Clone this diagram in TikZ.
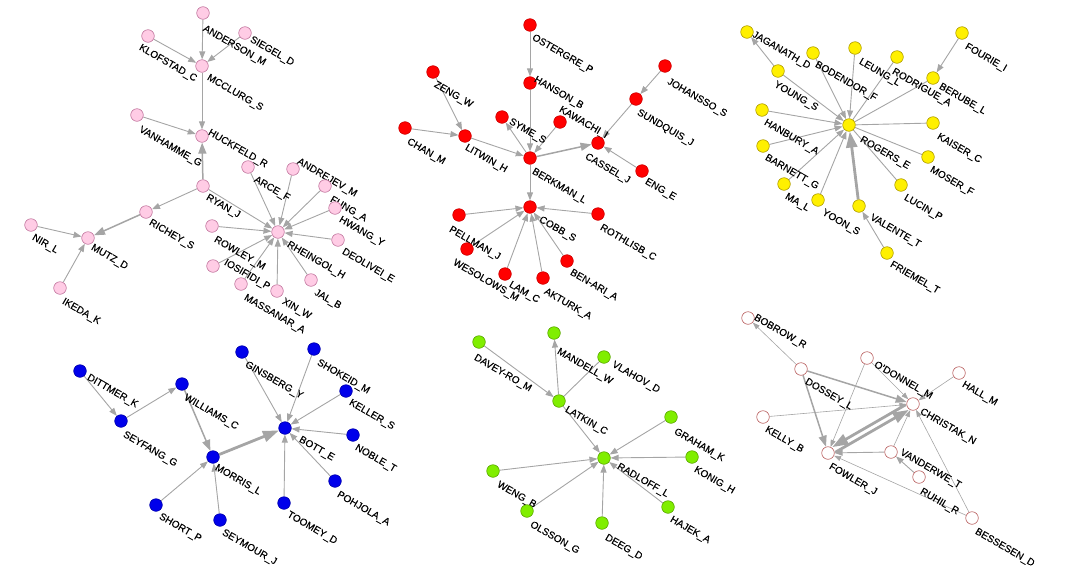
\documentclass[tikz,border=0pt]{standalone}
\usepackage{fontspec}
\setmainfont{Liberation Sans}[FakeBold=0.25]
\usetikzlibrary{arrows.meta,backgrounds}
\definecolor{edgec}{RGB}{165,165,165}
\definecolor{pinkf}{RGB}{255,204,229}
\definecolor{pinkd}{RGB}{195,120,160}
\definecolor{redf}{RGB}{255,0,0}
\definecolor{redd}{RGB}{205,0,0}
\definecolor{yelf}{RGB}{255,240,0}
\definecolor{yeld}{RGB}{175,155,0}
\definecolor{bluf}{RGB}{0,0,235}
\definecolor{blud}{RGB}{0,0,170}
\definecolor{grnf}{RGB}{128,238,0}
\definecolor{grnd}{RGB}{90,165,0}
\definecolor{whd}{RGB}{185,95,95}
\newcommand\vx[5]{\node[#1] (#2) at (#3) {}; \node[lbl] (#2-t) at (#5) {#4};}
\begin{document}
\begin{tikzpicture}[x=1pt,y=-1pt,
  vtx/.style={circle,minimum size=12.6pt,inner sep=0pt,line width=0.6pt},
  pk/.style={vtx,fill=pinkf,draw=pinkd},
  rd/.style={vtx,fill=redf,draw=redd},
  yl/.style={vtx,fill=yelf,draw=yeld},
  bl/.style={vtx,fill=bluf,draw=blud},
  gn/.style={vtx,fill=grnf,draw=grnd},
  wh/.style={vtx,fill=white,draw=whd},
  lbl/.style={anchor=north west,rotate=-30,inner sep=0pt,font=\fontsize{10}{11}\selectfont},
  e/.style={draw=edgec,line width=0.9pt,-{Triangle[length=8pt,width=6pt]}},
  en/.style={draw=edgec,line width=0.9pt},
  et/.style={draw=edgec,line width=0.6pt,-{Triangle[length=7pt,width=5pt]}},
  e2/.style={draw=edgec,line width=1.5pt,-{Triangle[length=11pt,width=8pt]}},
  e3/.style={draw=edgec,line width=2.8pt,-{Triangle[length=16pt,width=11pt]}},
]
\useasboundingbox (0,0) rectangle (1070,568);
% ---------- pink ----------
\vx{pk}{ANDERSON}{203,13}{ANDERSON\_M}{206,24}
\vx{pk}{SIEGEL}{245,33}{SIEGEL\_D}{253,35}
\vx{pk}{KLOFSTAD}{148,36}{KLOFSTAD\_C}{142,43}
\vx{pk}{MCCLURG}{202,66}{MCCLURG\_S}{210,73}
\vx{pk}{VANHAMME}{137,115}{VANHAMME\_G}{142,125}
\vx{pk}{HUCKFELD}{202,136}{HUCKFELD\_R}{211,128}
\vx{pk}{RYAN}{203,186}{RYAN\_J}{209,193}
\vx{pk}{RICHEY}{146,212}{RICHEY\_S}{152,218}
\vx{pk}{NIR}{31,225}{NIR\_L}{35,233}
\vx{pk}{MUTZ}{88,238}{MUTZ\_D}{94,243}
\vx{pk}{IKEDA}{60,288}{IKEDA\_K}{65,297}
\vx{pk}{ARCE}{248,167}{ARCE\_F}{257,175}
\vx{pk}{ANDREJEV}{293,169}{ANDREJEV\_M}{300,157}
\vx{pk}{FUNG}{325,186}{FUNG\_A}{333,195}
\vx{pk}{HWANG}{335,208}{HWANG\_Y}{342,215}
\vx{pk}{DEOLIVEI}{338,240}{DEOLIVEI\_E}{345,247}
\vx{pk}{RHEINGOL}{278,232}{RHEINGOL\_H}{290,240}
\vx{pk}{ROWLEY}{212,226}{ROWLEY\_M}{217,235}
\vx{pk}{IOSIFIDI}{213,266}{IOSIFIDI\_P}{227,258}
\vx{pk}{MASSANAR}{241,284}{MASSANAR\_A}{247,293}
\vx{pk}{XIN}{277,291}{XIN\_W}{285,297}
\vx{pk}{JAL}{311,280}{JAL\_B}{317,288}
% ---------- red ----------
\vx{rd}{OSTERGRE}{530,25}{OSTERGRE\_P}{535,33}
\vx{rd}{HANSON}{530,83}{HANSON\_B}{537,75}
\vx{rd}{ZENG}{433,72}{ZENG\_W}{437,80}
\vx{rd}{CHAN}{405,128}{CHAN\_M}{410,137}
\vx{rd}{LITWIN}{465,136}{LITWIN\_H}{468,143}
\vx{rd}{SYME}{502,117}{SYME\_S}{512,117}
\vx{rd}{KAWACHI}{560,122}{KAWACHI\_I}{562,105}
\vx{rd}{BERKMAN}{530,158}{BERKMAN\_L}{535,167}
\vx{rd}{JOHANSSO}{665,66}{JOHANSSO\_S}{670,77}
\vx{rd}{SUNDQUIS}{636,99}{SUNDQUIS\_J}{640,108}
\vx{rd}{CASSEL}{598,143}{CASSEL\_J}{588,152}
\vx{rd}{ENG}{642,171}{ENG\_E}{648,177}
\vx{rd}{COBB}{530,207}{COBB\_S}{542,215}
\vx{rd}{PELLMAN}{459,215}{PELLMAN\_J}{452,225}
\vx{rd}{WESOLOWS}{467,249}{WESOLOWS\_M}{456,258}
\vx{rd}{LAM}{505,274}{LAM\_C}{512,280}
\vx{rd}{AKTURK}{543,278}{AKTURK\_A}{547,287}
\vx{rd}{BENARI}{567,261}{BEN-ARI\_A}{573,268}
\vx{rd}{ROTHLISB}{598,214}{ROTHLISB\_C}{603,223}
% ---------- yellow ----------
\vx{yl}{JAGANATH}{747,32}{JAGANATH\_D}{755,30}
\vx{yl}{YOUNG}{778,71}{YOUNG\_S}{777,80}
\vx{yl}{BODENDOR}{813,53}{BODENDOR\_F}{818,60}
\vx{yl}{LEUNG}{855,48}{LEUNG\_L}{862,57}
\vx{yl}{RODRIGUE}{897,57}{RODRIGUE\_A}{895,67}
\vx{yl}{FOURIE}{962,33}{FOURIE\_I}{968,42}
\vx{yl}{BERUBE}{933,78}{BERUBE\_L}{942,82}
\vx{yl}{ROGERS}{849,125}{ROGERS\_E}{863,135}
\vx{yl}{HANBURY}{762,110}{HANBURY\_A}{767,118}
\vx{yl}{BARNETT}{763,146}{BARNETT\_G}{768,153}
\vx{yl}{MA}{784,184}{MA\_L}{788,192}
\vx{yl}{YOON}{818,200}{YOON\_S}{825,208}
\vx{yl}{VALENTE}{859,206}{VALENTE\_T}{873,213}
\vx{yl}{FRIEMEL}{887,253}{FRIEMEL\_T}{893,260}
\vx{yl}{LUCIN}{901,185}{LUCIN\_P}{907,193}
\vx{yl}{MOSER}{928,157}{MOSER\_F}{933,165}
\vx{yl}{KAISER}{933,123}{KAISER\_C}{940,132}
% ---------- blue ----------
\vx{bl}{DITTMER}{80,371}{DITTMER\_K}{90,373}
\vx{bl}{SEYFANG}{121,421}{SEYFANG\_G}{126,430}
\vx{bl}{WILLIAMS}{182,384}{WILLIAMS\_C}{187,393}
\vx{bl}{MORRIS}{213,457}{MORRIS\_L}{218,463}
\vx{bl}{SHORT}{156,505}{SHORT\_P}{162,512}
\vx{bl}{SEYMOUR}{220,520}{SEYMOUR\_J}{225,528}
\vx{bl}{GINSBERG}{242,352}{GINSBERG\_Y}{248,360}
\vx{bl}{SHOKEID}{314,349}{SHOKEID\_M}{320,358}
\vx{bl}{KELLER}{346,391}{KELLER\_S}{352,398}
\vx{bl}{NOBLE}{353,435}{NOBLE\_T}{358,443}
\vx{bl}{BOTT}{285,428}{BOTT\_E}{302,435}
\vx{bl}{POHJOLA}{335,481}{POHJOLA\_A}{340,490}
\vx{bl}{TOOMEY}{284,503}{TOOMEY\_D}{290,510}
% ---------- green ----------
\vx{gn}{DAVEYRO}{479,342}{DAVEY-RO\_M}{477,353}
\vx{gn}{MANDELL}{554,333}{MANDELL\_W}{560,347}
\vx{gn}{VLAHOV}{604,357}{VLAHOV\_D}{615,360}
\vx{gn}{LATKIN}{559,401}{LATKIN\_C}{568,405}
\vx{gn}{GRAHAM}{671,417}{GRAHAM\_K}{677,427}
\vx{gn}{KONIG}{692,457}{KONIG\_H}{697,465}
\vx{gn}{RADLOFF}{604,458}{RADLOFF\_L}{620,462}
\vx{gn}{WENG}{493,471}{WENG\_B}{500,480}
\vx{gn}{OLSSON}{527,511}{OLSSON\_G}{533,520}
\vx{gn}{DEEG}{602,523}{DEEG\_D}{608,533}
\vx{gn}{HAJEK}{668,507}{HAJEK\_A}{673,515}
% ---------- white ----------
\vx{wh}{BOBROW}{748,318}{BOBROW\_R}{757,313}
\vx{wh}{DOSSEY}{801,369}{DOSSEY\_L}{808,377}
\vx{wh}{ODONNEL}{867,358}{O'DONNEL\_M}{877,360}
\vx{wh}{HALL}{959,373}{HALL\_M}{965,380}
\vx{wh}{CHRISTAK}{913,404}{CHRISTAK\_N}{923,407}
\vx{wh}{KELLY}{763,417}{KELLY\_B}{768,425}
\vx{wh}{FOWLER}{828,453}{FOWLER\_J}{832,462}
\vx{wh}{VANDERWE}{891,452}{VANDERWE\_T}{903,448}
\vx{wh}{RUHIL}{919,477}{RUHIL\_R}{923,487}
\vx{wh}{BESSESEN}{972,518}{BESSESEN\_D}{978,527}
\begin{scope}[on background layer]
% pink edges
\draw[e] (ANDERSON) -- (MCCLURG);
\draw[e] (SIEGEL) -- (MCCLURG);
\draw[e] (KLOFSTAD) -- (MCCLURG);
\draw[e] (MCCLURG) -- (HUCKFELD);
\draw[e] (VANHAMME) -- (HUCKFELD);
\draw[e2] (RYAN) -- (HUCKFELD);
\draw[e] (RYAN) -- (RICHEY);
\draw[e2] (RICHEY) -- (MUTZ);
\draw[e] (NIR) -- (MUTZ);
\draw[e] (IKEDA) -- (MUTZ);
\foreach \s in {RYAN,ARCE,ANDREJEV,FUNG,HWANG,DEOLIVEI,ROWLEY,IOSIFIDI,MASSANAR,XIN,JAL}
  \draw[e] (\s) -- (RHEINGOL);
% red edges
\draw[e] (OSTERGRE) -- (HANSON);
\draw[e] (HANSON) -- (BERKMAN);
\draw[e] (ZENG) -- (LITWIN);
\draw[e] (CHAN) -- (LITWIN);
\draw[e] (LITWIN) -- (BERKMAN);
\draw[e] (BERKMAN) -- (SYME);
\draw[e] (KAWACHI) -- (BERKMAN);
\draw[e2] (BERKMAN) -- (CASSEL);
\draw[e] (JOHANSSO) -- (SUNDQUIS);
\draw[e] (SUNDQUIS) -- (CASSEL);
\draw[e] (ENG) -- (CASSEL);
\draw[e] (BERKMAN) -- (COBB);
\foreach \s in {PELLMAN,WESOLOWS,LAM,AKTURK,BENARI,ROTHLISB}
  \draw[e] (\s) -- (COBB);
% yellow edges
\draw[e] (YOUNG) -- (JAGANATH);
\draw[e] (FOURIE) -- (BERUBE);
\draw[e] (FRIEMEL) -- (VALENTE);
\draw[e3] (VALENTE) -- (ROGERS);
\foreach \s in {YOUNG,BODENDOR,LEUNG,HANBURY,BARNETT,MA,YOON}
  \draw[e] (\s) -- (ROGERS);
\foreach \s in {RODRIGUE,BERUBE,KAISER,MOSER,LUCIN}
  \draw[en] (\s) -- (ROGERS);
% blue edges
\draw[e] (DITTMER) -- (SEYFANG);
\draw[e] (SEYFANG) -- (WILLIAMS);
\draw[e2] (WILLIAMS) -- (MORRIS);
\draw[e] (SHORT) -- (MORRIS);
\draw[e] (SEYMOUR) -- (MORRIS);
\draw[e3] (MORRIS) -- (BOTT);
\foreach \s in {GINSBERG,SHOKEID,KELLER,NOBLE,POHJOLA,TOOMEY}
  \draw[e] (\s) -- (BOTT);
% green edges
\draw[e] (DAVEYRO) -- (LATKIN);
\draw[e] (LATKIN) -- (MANDELL);
\draw[en] (VLAHOV) -- (LATKIN);
\draw[e] (LATKIN) -- (RADLOFF);
\foreach \s in {GRAHAM,KONIG,WENG,OLSSON,DEEG,HAJEK}
  \draw[e] (\s) -- (RADLOFF);
% white edges
\draw[et] (DOSSEY) -- (BOBROW);
\draw[e2] (DOSSEY) -- (CHRISTAK);
\draw[e2] (DOSSEY) -- (FOWLER);
\draw[et] (ODONNEL) -- (CHRISTAK);
\draw[et] (ODONNEL) -- (FOWLER);
\draw[et] (HALL) -- (CHRISTAK);
\draw[et] (KELLY) -- (CHRISTAK);
\draw[e3,transform canvas={shift={(-1.5pt,2.6pt)}}] (CHRISTAK) -- (FOWLER);
\draw[e3,transform canvas={shift={(1.5pt,-2.6pt)}}] (FOWLER) -- (CHRISTAK);
\draw[e] (VANDERWE) -- (FOWLER);
\draw[et] (VANDERWE) -- (CHRISTAK);
\draw[e] (RUHIL) -- (VANDERWE);
\draw[et] (BESSESEN) -- (FOWLER);
\draw[et] (BESSESEN) -- (CHRISTAK);
\end{scope}
\end{tikzpicture}
\end{document}
